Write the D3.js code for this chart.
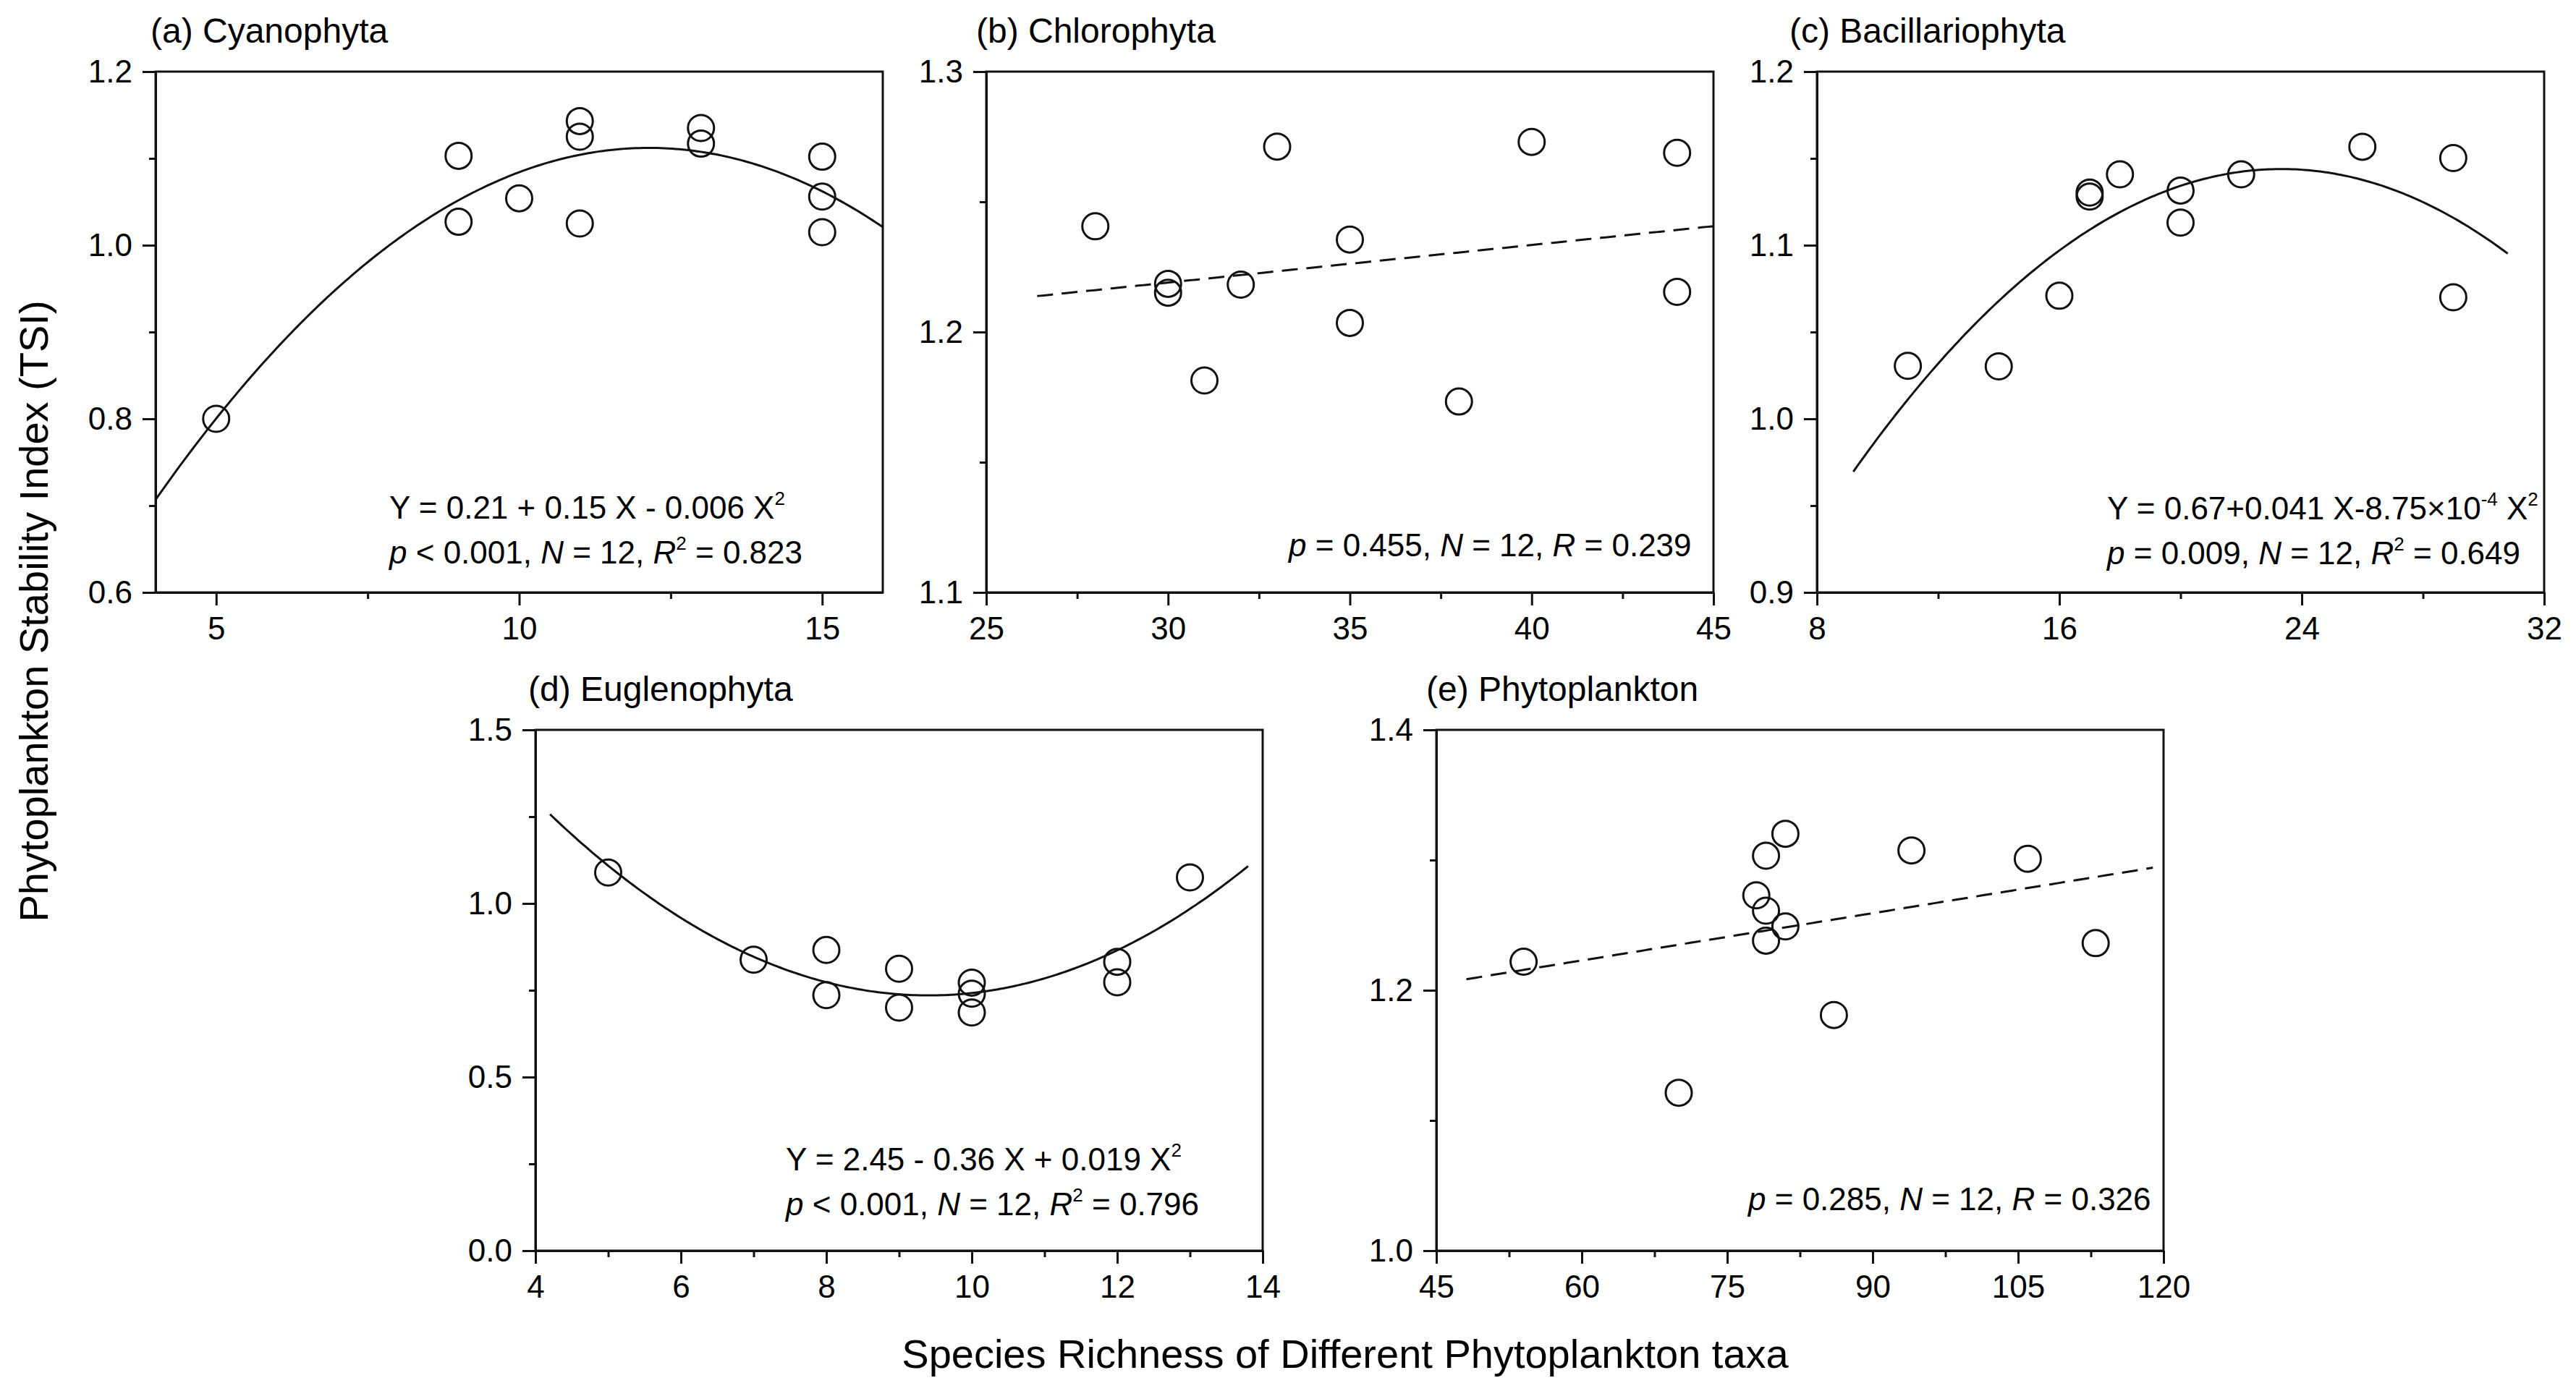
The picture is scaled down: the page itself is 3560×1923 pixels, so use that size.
<!DOCTYPE html>
<html><head><meta charset="utf-8">
<script src="https://cdn.jsdelivr.net/npm/d3@7"></script>
<style>
body{margin:0;background:#fff}
svg{display:block;background:#fff}
text{font-family:"Liberation Sans",Arial,sans-serif;fill:#000}
</style>
</head><body>
<svg id="chart" width="3560" height="1923"></svg>
<script>
// ---------- data ----------
const cyanoX  = [5, 9, 9, 10, 11, 11, 11, 13, 13, 15, 15, 15];
const cyanoY  = [0.800, 1.103, 1.027, 1.054, 1.143, 1.125, 1.025, 1.135, 1.117, 1.102, 1.056, 1.015];
const chloroX = [28, 30, 30, 31, 32, 33, 35, 35, 38, 40, 44, 44];
const chloroY = [1.2406, 1.2185, 1.2151, 1.1814, 1.2182, 1.2712, 1.2355, 1.2035, 1.1733, 1.2730, 1.2688, 1.2154];
const bacilX  = [11, 14, 16, 17, 17, 18, 20, 20, 22, 26, 29, 29];
const bacilY  = [1.0305, 1.0302, 1.0709, 1.1303, 1.1280, 1.1408, 1.1315, 1.1130, 1.1408, 1.1567, 1.1502, 1.0700];
const eugleX  = [5, 7, 8, 8, 9, 9, 10, 10, 10, 12, 12, 13];
const eugleY  = [1.089, 0.838, 0.866, 0.736, 0.812, 0.700, 0.772, 0.740, 0.686, 0.832, 0.773, 1.075];
const phytoX  = [54, 70, 78, 79, 79, 79, 81, 81, 86, 94, 106, 113];
const phytoY  = [1.2219, 1.1213, 1.2729, 1.3033, 1.2611, 1.2381, 1.3202, 1.2490, 1.1810, 1.3074, 1.3010, 1.2362];

// tick values
const aTicksX = [5, 10, 15],              aMinorX = [7.5, 12.5];
const aTicksY = [0.6, 0.8, 1.0, 1.2],     aMinorY = [0.7, 0.9, 1.1];
const bTicksX = [25, 30, 35, 40, 45],     bMinorX = [27.5, 32.5, 37.5, 42.5];
const bTicksY = [1.1, 1.2, 1.3],          bMinorY = [1.15, 1.25];
const cTicksX = [8, 16, 24, 32],          cMinorX = [12, 20, 28];
const cTicksY = [0.9, 1.0, 1.1, 1.2],     cMinorY = [0.95, 1.05, 1.15];
const dTicksX = [4, 6, 8, 10, 12, 14],    dMinorX = [5, 7, 9, 11, 13];
const dTicksY = [0.0, 0.5, 1.0, 1.5],     dMinorY = [0.25, 0.75, 1.25];
const eTicksX = [45, 60, 75, 90, 105, 120], eMinorX = [52.5, 67.5, 82.5, 97.5, 112.5];
const eTicksY = [1.0, 1.2, 1.4],          eMinorY = [1.1, 1.3];

// titles and annotation text
const titles = ["(a) Cyanophyta", "(b) Chlorophyta", "(c) Bacillariophyta", "(d) Euglenophyta", "(e) Phytoplankton"];
const yTitle = "Phytoplankton Stability Index (TSI)";
const xTitle = "Species Richness of Different Phytoplankton taxa";

// ---------- helpers ----------
function polyfit(xs, ys, deg) {
  const n = deg + 1;
  const A = Array.from({length: n}, () => new Array(n + 1).fill(0));
  xs.forEach((x, k) => {
    for (let i = 0; i < n; i++) {
      for (let j = 0; j < n; j++) A[i][j] += Math.pow(x, i + j);
      A[i][n] += ys[k] * Math.pow(x, i);
    }
  });
  for (let i = 0; i < n; i++) {
    let p = i;
    for (let r = i + 1; r < n; r++) if (Math.abs(A[r][i]) > Math.abs(A[p][i])) p = r;
    [A[i], A[p]] = [A[p], A[i]];
    for (let r = 0; r < n; r++) {
      if (r === i) continue;
      const f = A[r][i] / A[i][i];
      for (let c = i; c <= n; c++) A[r][c] -= f * A[i][c];
    }
  }
  return A.map((row, i) => row[n] / row[i]);
}

const svg = d3.select("#chart");
const SW = 3;

function annot(g, x, y, segs) {
  const t = g.append("text").attr("x", x).attr("y", y).attr("font-size", 44);
  let raised = false;
  segs.forEach(s => {
    const sp = t.append("tspan").text(s.t);
    if (s.i) sp.attr("font-style", "italic");
    if (s.sup) { sp.attr("font-size", 26).attr("dy", -19); raised = true; }
    else if (raised) { sp.attr("dy", 19); raised = false; }
  });
}

function panel(cfg) {
  const {left, top, w, h, xd, yd, xs, ys, tx, mx, ty, my, fmtY, deg, dashed, title, notes} = cfg;
  const g = svg.append("g").attr("transform", `translate(${left},${top})`);
  const x = d3.scaleLinear().domain(xd).range([0, w]);
  const y = d3.scaleLinear().domain(yd).range([h, 0]);

  // minor ticks
  g.append("g").attr("transform", `translate(0,${h})`)
    .call(d3.axisBottom(x).tickValues(mx).tickSize(9).tickSizeOuter(0).tickFormat(""))
    .call(a => a.select(".domain").remove());
  g.append("g")
    .call(d3.axisLeft(y).tickValues(my).tickSize(9).tickSizeOuter(0).tickFormat(""))
    .call(a => a.select(".domain").remove());
  // major ticks
  g.append("g").attr("class", "xa").attr("transform", `translate(0,${h})`)
    .call(d3.axisBottom(x).tickValues(tx).tickSize(18).tickSizeOuter(0).tickPadding(16).tickFormat(d3.format("d")));
  g.append("g").attr("class", "ya")
    .call(d3.axisLeft(y).tickValues(ty).tickSize(18).tickSizeOuter(0).tickPadding(14).tickFormat(d3.format(fmtY)));
  g.selectAll(".tick line").attr("stroke", "#111").attr("stroke-width", SW);
  g.selectAll(".domain").attr("stroke", "#111").attr("stroke-width", SW);
  g.selectAll(".tick text").attr("font-size", 44).attr("font-family", "'Liberation Sans', Arial, sans-serif").attr("fill", "#000");

  // frame
  g.append("rect").attr("x", 0).attr("y", 0).attr("width", w).attr("height", h)
    .attr("fill", "none").attr("stroke", "#111").attr("stroke-width", SW);

  // fit line over data range extended by 10% on each side, clipped to axis
  const coef = polyfit(xs, ys, deg);
  const [mn, mxv] = d3.extent(xs);
  const ext = (mxv - mn) * 0.1;
  const x0 = Math.max(xd[0], mn - ext), x1 = Math.min(xd[1], mxv + ext);
  const pts = d3.range(0, 201).map(i => {
    const xv = x0 + (x1 - x0) * i / 200;
    return [xv, coef.reduce((s, c, k) => s + c * Math.pow(xv, k), 0)];
  });
  g.append("path").datum(pts)
    .attr("d", d3.line().x(d => x(d[0])).y(d => y(d[1])))
    .attr("fill", "none").attr("stroke", "#111").attr("stroke-width", SW)
    .attr("stroke-dasharray", dashed ? "22,12" : null);

  // points
  g.selectAll("circle.pt").data(xs.map((v, i) => [v, ys[i]])).enter()
    .append("circle").attr("class", "pt")
    .attr("cx", d => x(d[0])).attr("cy", d => y(d[1])).attr("r", 18)
    .attr("fill", "none").attr("stroke", "#111").attr("stroke-width", SW);

  // title
  svg.append("text").attr("x", cfg.titleX).attr("y", top - 40).attr("font-size", 48).text(title);

  notes.forEach(n => annot(svg, n.x, n.y, n.segs));
}

const W = 1005, H = 720;

panel({left: 215, top: 99, w: W, h: H, xd: [4, 16], yd: [0.6, 1.2], xs: cyanoX, ys: cyanoY,
  tx: aTicksX, mx: aMinorX, ty: aTicksY, my: aMinorY, fmtY: ".1f", deg: 2, dashed: false,
  title: titles[0], titleX: 208,
  notes: [
    {x: 538, y: 717, segs: [{t: "Y = 0.21 + 0.15 X - 0.006 X"}, {t: "2", sup: true}]},
    {x: 538, y: 779, segs: [{t: "p", i: true}, {t: " < 0.001, "}, {t: "N", i: true}, {t: " = 12, "}, {t: "R", i: true}, {t: "2", sup: true}, {t: " = 0.823"}]}
  ]});

panel({left: 1363, top: 99, w: W, h: H, xd: [25, 45], yd: [1.1, 1.3], xs: chloroX, ys: chloroY,
  tx: bTicksX, mx: bMinorX, ty: bTicksY, my: bMinorY, fmtY: ".1f", deg: 1, dashed: true,
  title: titles[1], titleX: 1349,
  notes: [
    {x: 1781, y: 769, segs: [{t: "p", i: true}, {t: " = 0.455, "}, {t: "N", i: true}, {t: " = 12, "}, {t: "R", i: true}, {t: " = 0.239"}]}
  ]});

panel({left: 2511, top: 99, w: W, h: H, xd: [8, 32], yd: [0.9, 1.2], xs: bacilX, ys: bacilY,
  tx: cTicksX, mx: cMinorX, ty: cTicksY, my: cMinorY, fmtY: ".1f", deg: 2, dashed: false,
  title: titles[2], titleX: 2473,
  notes: [
    {x: 2912, y: 718, segs: [{t: "Y = 0.67+0.041 X-8.75×10"}, {t: "-4", sup: true}, {t: " X"}, {t: "2", sup: true}]},
    {x: 2912, y: 780, segs: [{t: "p", i: true}, {t: " = 0.009, "}, {t: "N", i: true}, {t: " = 12, "}, {t: "R", i: true}, {t: "2", sup: true}, {t: " = 0.649"}]}
  ]});

panel({left: 740, top: 1009, w: W, h: H, xd: [4, 14], yd: [0, 1.5], xs: eugleX, ys: eugleY,
  tx: dTicksX, mx: dMinorX, ty: dTicksY, my: dMinorY, fmtY: ".1f", deg: 2, dashed: false,
  title: titles[3], titleX: 730,
  notes: [
    {x: 1086, y: 1618, segs: [{t: "Y = 2.45 - 0.36 X + 0.019 X"}, {t: "2", sup: true}]},
    {x: 1086, y: 1680, segs: [{t: "p", i: true}, {t: " < 0.001, "}, {t: "N", i: true}, {t: " = 12, "}, {t: "R", i: true}, {t: "2", sup: true}, {t: " = 0.796"}]}
  ]});

panel({left: 1985, top: 1009, w: W, h: H, xd: [45, 120], yd: [1.0, 1.4], xs: phytoX, ys: phytoY,
  tx: eTicksX, mx: eMinorX, ty: eTicksY, my: eMinorY, fmtY: ".1f", deg: 1, dashed: true,
  title: titles[4], titleX: 1971,
  notes: [
    {x: 2416, y: 1673, segs: [{t: "p", i: true}, {t: " = 0.285, "}, {t: "N", i: true}, {t: " = 12, "}, {t: "R", i: true}, {t: " = 0.326"}]}
  ]});

// axis titles
svg.append("text").attr("transform", "translate(66,845) rotate(-90)")
  .attr("text-anchor", "middle").attr("font-size", 56).text(yTitle);
svg.append("text").attr("x", 1859).attr("y", 1891)
  .attr("text-anchor", "middle").attr("font-size", 56).text(xTitle);
</script>
</body></html>
